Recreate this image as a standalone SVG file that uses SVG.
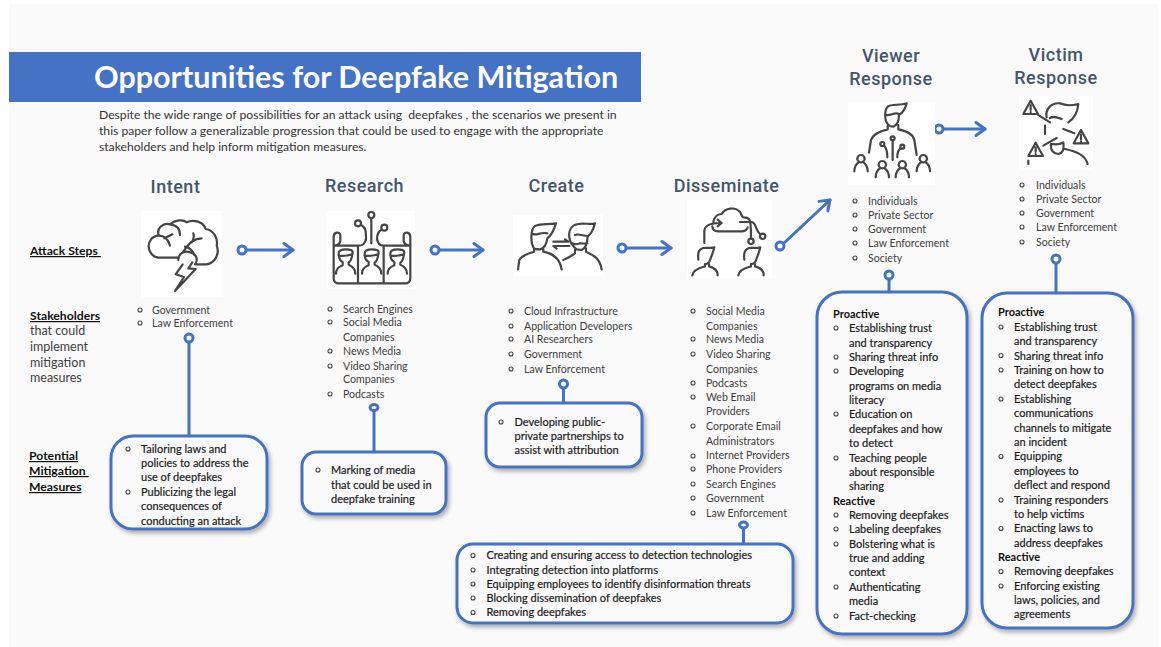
<svg xmlns="http://www.w3.org/2000/svg" width="1161" height="647" viewBox="0 0 1161 647">
<style>
text{font-family:"Lato","Open Sans","Liberation Sans",sans-serif}
.h{font-family:"Roboto","Lato",sans-serif;font-size:18px;fill:#44546a;text-anchor:middle;letter-spacing:.5px;font-weight:500}
.l{font-size:10.600px;fill:#404040}
.m{font-size:11px;fill:#1c1c1c;stroke:#1c1c1c;stroke-width:.2}
.b{font-size:11px;fill:#111;font-weight:700}
.s{font-size:12.170px;fill:#333}
.u{font-size:12.200px;fill:#111;font-weight:700;text-decoration:underline}
.g{font-size:12.500px;fill:#404040}
.box{fill:#fafafa;stroke:#4472c4;stroke-width:3;filter:url(#sh)}
.c{fill:none;stroke:#4472c4;stroke-width:3;stroke-linecap:round;stroke-linejoin:round}
.d{fill:#fafafa;stroke:#4472c4;stroke-width:3}
.i{fill:none;stroke:#454545;stroke-width:6.600;stroke-linecap:round;stroke-linejoin:round}
.w{fill:#fff}
.o{fill:none;stroke:#444;stroke-width:1.100}
</style>
<defs>
<filter id="sh" x="-10%" y="-10%" width="125%" height="125%"><feDropShadow dx="2" dy="3" stdDeviation="2" flood-color="#000" flood-opacity=".3"/></filter>
<circle id="o" class="o" r="2"/>
<path id="ah" class="c" d="M-9 -6.500L0 0L-9 6.500"/>
<path id="rp" class="i" d="M-28 28C-28 13 -20 8 -8 3L-8 -7C-18 -12 -20 -22 -20 -32C-20 -42 -10 -45 2 -45C15 -45 22 -42 22 -37C20 -22 20 -12 10 -5V1C22 8 30 13 30 28M-20 -27C-10 -22 5 -27 18 -29"/>
<path id="dp" class="i" d="M40 185C38 165 40 155 55 150C65 148 75 152 88 148C85 160 82 170 78 178C75 190 70 200 60 198V205C50 208 25 212 22 232M72 198V205C85 208 98 215 98 232"/>
<path id="vp" class="i" d="M-20 38C-20 22 -12 14 -6 10M20 38C20 22 12 14 6 10M0 -11A11 11 0 1 1 -0.100 -11Z"/>
<path id="tri" class="i" d="M0 -22L22 18H-22ZM0 -8V6M0 12V13"/>
</defs>
<rect width="1161" height="647" fill="#fff"/>
<rect x="9" y="4" width="1149" height="643" fill="#fafafa"/>
<g id="title"><rect x="9" y="52" width="632" height="50" fill="#4472c4"/>
<text x="94" y="88" font-size="30.500" font-weight="700" fill="#fff">Opportunities for Deepfake Mitigation</text></g>
<g id="intro"><text class="s" x="99" y="119" xml:space="preserve">Despite the wide range of possibilities for an attack using  deepfakes , the scenarios we present in</text>
<text class="s" x="99" y="135">this paper follow a generalizable progression that could be used to engage with the appropriate</text>
<text class="s" x="99" y="151">stakeholders and help inform mitigation measures.</text></g>
<g id="row-labels">
<text class="u" x="30" y="255" xml:space="preserve">Attack Steps </text>
<text class="u" x="30" y="320">Stakeholders</text>
<text class="g" x="30" y="335">that could</text><text class="g" x="30" y="351">implement</text><text class="g" x="30" y="367">mitigation</text><text class="g" x="30" y="382">measures</text>
<text class="u" x="29" y="460">Potential</text><text class="u" x="29" y="475" xml:space="preserve">Mitigation </text><text class="u" x="29" y="491">Measures</text>
</g>
<g id="connectors">
<path class="c" d="M189 342V436M374 411V452M563.500 388V403M743.500 529V544M889 279V292M1056 263V293"/>
<path class="c" d="M247 250H293M440 250H483M627 248H671M784 243L830 200M944 129H985"/>
<use href="#ah" x="293" y="250"/><use href="#ah" x="483" y="250"/><use href="#ah" x="671" y="248"/><use href="#ah" transform="translate(830 200) rotate(-43)"/><use href="#ah" x="985" y="129"/>
<circle class="d" cx="242" cy="250" r="4"/><circle class="d" cx="435" cy="250" r="4"/><circle class="d" cx="622" cy="248" r="4"/><circle class="d" cx="780" cy="246" r="4"/><circle class="d" cx="939" cy="129" r="4"/>
<circle class="d" cx="189" cy="338" r="4"/><ellipse class="d" cx="374" cy="407.500" rx="4" ry="3"/><circle class="d" cx="563.500" cy="384" r="4"/><ellipse class="d" cx="743.500" cy="525" rx="4" ry="3"/><circle class="d" cx="889" cy="275" r="4"/><circle class="d" cx="1056" cy="259" r="4"/>
</g>
<g id="intent"><text class="h" x="175.500" y="193">Intent</text>
<rect class="w" x="141" y="211" width="81" height="86"/>
<g transform="translate(135 205) scale(.3333)"><path class="i" d="M130 158H70C45 155 35 125 45 108C52 95 62 92 72 92C62 70 85 52 105 58C120 45 145 42 155 52C175 42 205 50 212 72C235 75 250 100 245 122C255 145 240 175 215 178H180M72 92C85 92 98 98 105 122M88 100L112 88M105 58C125 60 135 72 135 90M200 100C175 100 160 115 145 140M175 85C178 95 175 105 170 112M130 165C130 145 150 135 165 142C185 145 190 165 180 178M150 125C165 128 172 135 178 150M143 178L122 208L147 216L120 258L182 192L160 190L172 172"/></g>
<circle class="o" cx="140" cy="310" r="2"/><circle class="o" cx="140" cy="323" r="2"/>
<text class="l" x="152" y="314">Government</text><text class="l" x="152" y="327">Law Enforcement</text></g>
<g id="research"><text class="h" x="364.500" y="192">Research</text>
<rect class="w" x="326" y="211" width="89" height="78"/>
<g transform="translate(322 205) scale(.3333)"><path class="i" d="M35 130V95C35 80 55 78 55 92V105C55 115 50 120 38 122H108C122 122 130 118 132 100M265 130V95C265 80 245 78 245 92V105C245 115 250 120 262 122H185C175 122 167 118 165 100M35 122V220C35 230 42 235 50 235H250C258 235 265 230 265 220V122M108 122V235M185 122V235M148 42V115M118 60C132 68 132 80 132 105M178 75C165 80 165 95 165 105"/>
<circle class="i" cx="148" cy="30" r="9"/><circle class="i" cx="108" cy="55" r="9"/><circle class="i" cx="187" cy="68" r="9"/>
<use href="#rp" x="70" y="178"/><use href="#rp" x="148" y="178"/><use href="#rp" x="225" y="178"/></g>
<use href="#o" x="330" y="309"/><use href="#o" x="330" y="322"/><use href="#o" x="330" y="351"/><use href="#o" x="330" y="366"/><use href="#o" x="330" y="394"/>
<text class="l" x="343" y="313">Search Engines</text><text class="l" x="343" y="326">Social Media</text><text class="l" x="343" y="341">Companies</text><text class="l" x="343" y="355">News Media</text><text class="l" x="343" y="370">Video Sharing</text><text class="l" x="343" y="383">Companies</text><text class="l" x="343" y="398">Podcasts</text></g>
<g id="create"><text class="h" x="556.500" y="192">Create</text>
<rect class="w" x="513" y="215" width="90" height="61"/>
<g transform="translate(510 210) scale(.3333)"><path class="i" d="M72 115C62 100 60 60 75 48C95 38 115 45 138 40C132 60 125 75 112 85C110 100 105 115 90 118C82 118 76 118 72 115ZM70 72C80 78 90 65 112 70M72 118V125C60 130 35 135 28 150L24 178M100 118V125C125 130 150 142 155 178M178 82C175 60 185 45 205 42C220 38 240 45 255 40C250 60 243 72 233 80C232 100 228 115 215 120L200 118C190 110 180 100 178 82ZM195 75C205 70 220 78 233 78M188 100C195 105 205 102 210 100C220 100 228 102 232 100M195 118V130C185 138 170 145 160 150M228 115V125C250 135 270 145 275 178"/>
<path class="i" stroke-width="5" d="M130 95H175L165 88M178 108H130L140 116"/></g>
<use href="#o" x="511" y="311"/><use href="#o" x="511" y="326"/><use href="#o" x="511" y="339"/><use href="#o" x="511" y="354"/><use href="#o" x="511" y="369"/>
<text class="l" x="524" y="315">Cloud Infrastructure</text><text class="l" x="524" y="330">Application Developers</text><text class="l" x="524" y="343">AI Researchers</text><text class="l" x="524" y="358">Government</text><text class="l" x="524" y="373">Law Enforcement</text></g>
<g id="disseminate"><text class="h" x="726.500" y="192">Disseminate</text>
<rect class="w" x="687" y="200" width="85" height="79"/>
<g transform="translate(685 198) scale(.3333)"><path class="i" d="M58 135V100C58 85 70 75 108 75M98 65L110 75L98 85M85 72C88 55 100 48 110 48C120 30 150 25 165 42C170 50 170 56 175 58C185 58 195 60 195 72H165M82 85C82 95 88 100 100 100H170C178 100 188 95 188 88M195 72C198 78 198 90 198 120M200 72C215 75 210 95 225 108"/>
<circle class="i" cx="198" cy="130" r="8"/><circle class="i" cx="233" cy="115" r="8"/>
<use href="#dp"/><use href="#dp" x="138"/></g>
<use href="#o" x="693" y="311"/><use href="#o" x="693" y="339"/><use href="#o" x="693" y="354"/><use href="#o" x="693" y="383"/><use href="#o" x="693" y="397"/><use href="#o" x="693" y="426"/><use href="#o" x="693" y="456"/><use href="#o" x="693" y="469"/><use href="#o" x="693" y="484"/><use href="#o" x="693" y="498"/><use href="#o" x="693" y="513"/>
<text class="l" x="706" y="315">Social Media</text><text class="l" x="706" y="330">Companies</text><text class="l" x="706" y="343">News Media</text><text class="l" x="706" y="358">Video Sharing</text><text class="l" x="706" y="373">Companies</text><text class="l" x="706" y="387">Podcasts</text><text class="l" x="706" y="401">Web Email</text><text class="l" x="706" y="415">Providers</text><text class="l" x="706" y="430">Corporate Email</text><text class="l" x="706" y="445">Administrators</text><text class="l" x="706" y="459">Internet Providers</text><text class="l" x="706" y="473">Phone Providers</text><text class="l" x="706" y="488">Search Engines</text><text class="l" x="706" y="502">Government</text><text class="l" x="706" y="517">Law Enforcement</text></g>
<g id="viewer"><text class="h" x="891" y="62">Viewer</text><text class="h" x="891" y="85">Response</text>
<rect class="w" x="848" y="102" width="87" height="83"/>
<g transform="translate(845 100) scale(.3333)"><path class="i" d="M128 72C118 60 118 30 128 20C140 10 165 18 185 10C180 28 175 38 162 45C162 60 158 75 145 80C138 80 132 78 128 72ZM125 45C135 48 150 35 162 42M128 78V88C110 92 85 100 78 120L72 158M160 75V88C180 92 205 100 208 120L215 165M143 122V180M118 138C125 145 127 155 127 172M166 146C158 150 157 160 157 172"/>
<circle class="i" cx="143" cy="115" r="6"/><circle class="i" cx="112" cy="132" r="6"/><circle class="i" cx="172" cy="140" r="6"/>
<use href="#vp" x="48" y="176"/><use href="#vp" x="112" y="194"/><use href="#vp" x="172" y="194"/><use href="#vp" x="235" y="176"/></g>
<use href="#o" x="855" y="201"/><use href="#o" x="855" y="215"/><use href="#o" x="855" y="229"/><use href="#o" x="855" y="243"/><use href="#o" x="855" y="258"/>
<text class="l" x="868" y="205">Individuals</text><text class="l" x="868" y="219">Private Sector</text><text class="l" x="868" y="233">Government</text><text class="l" x="868" y="247">Law Enforcement</text><text class="l" x="868" y="262">Society</text></g>
<g id="victim"><text class="h" x="1056" y="61">Victim</text><text class="h" x="1056" y="84">Response</text>
<rect class="w" x="1019" y="96" width="74" height="74"/>
<g transform="translate(1015 94) scale(.3333)"><path class="i" d="M95 70C90 50 105 25 135 28C150 35 170 35 190 30C188 55 175 75 160 85M105 72C115 65 125 70 140 75M68 62L105 85M90 95V120M178 118L145 105M85 155L125 132M108 150C105 170 118 180 130 180C142 178 148 165 145 145C130 155 120 150 108 150ZM150 165C180 172 210 180 218 210M40 200V210"/>
<use href="#tri" x="47" y="42"/><use href="#tri" x="198" y="130"/><use href="#tri" x="62" y="168"/></g>
<use href="#o" x="1022" y="185"/><use href="#o" x="1022" y="199"/><use href="#o" x="1022" y="213"/><use href="#o" x="1022" y="227"/><use href="#o" x="1022" y="242"/>
<text class="l" x="1036" y="189">Individuals</text><text class="l" x="1036" y="203">Private Sector</text><text class="l" x="1036" y="217">Government</text><text class="l" x="1036" y="231">Law Enforcement</text><text class="l" x="1036" y="246">Society</text></g>
<g id="m-intent"><rect class="box" x="111" y="436" width="156" height="93" rx="22"/>
<use href="#o" x="128" y="449"/><use href="#o" x="128" y="492"/>
<text class="m" x="141" y="453">Tailoring laws and</text><text class="m" x="141" y="467">policies to address the</text><text class="m" x="141" y="481">use of deepfakes</text><text class="m" x="141" y="496">Publicizing the legal</text><text class="m" x="141" y="510">consequences of</text><text class="m" x="141" y="525">conducting an attack</text></g>
<g id="m-research"><rect class="box" x="302" y="452" width="144" height="62" rx="14"/>
<use href="#o" x="318" y="470"/>
<text class="m" x="331" y="474">Marking of media</text><text class="m" x="331" y="489">that could be used in</text><text class="m" x="331" y="503">deepfake training</text></g>
<g id="m-create"><rect class="box" x="486" y="403" width="156" height="64" rx="14"/>
<use href="#o" x="501" y="422"/>
<text class="m" x="514.500" y="426">Developing public-</text><text class="m" x="514.500" y="440">private partnerships to</text><text class="m" x="514.500" y="454">assist with attribution</text></g>
<g id="m-disseminate"><rect class="box" x="457" y="544" width="336" height="79" rx="16"/>
<use href="#o" x="473" y="555.500"/><use href="#o" x="473" y="570"/><use href="#o" x="473" y="584"/><use href="#o" x="473" y="598"/><use href="#o" x="473" y="612.500"/>
<text class="m" x="486.500" y="559">Creating and ensuring access to detection technologies</text><text class="m" x="486.500" y="573.500">Integrating detection into platforms</text><text class="m" x="486.500" y="587.500">Equipping employees to identify disinformation threats</text><text class="m" x="486.500" y="602">Blocking dissemination of deepfakes</text><text class="m" x="486.500" y="616">Removing deepfakes</text></g>
<g id="m-viewer"><rect class="box" x="817" y="292" width="150" height="342" rx="25"/>
<use href="#o" x="836" y="328"/><use href="#o" x="836" y="357"/><use href="#o" x="836" y="371"/><use href="#o" x="836" y="414"/><use href="#o" x="836" y="458"/><use href="#o" x="836" y="515"/><use href="#o" x="836" y="529"/><use href="#o" x="836" y="544"/><use href="#o" x="836" y="587"/><use href="#o" x="836" y="616"/>
<text class="b" x="833" y="318">Proactive</text>
<text class="m" x="849" y="332">Establishing trust</text><text class="m" x="849" y="346.500">and transparency</text><text class="m" x="849" y="361">Sharing threat info</text><text class="m" x="849" y="375">Developing</text><text class="m" x="849" y="389.500">programs on media</text><text class="m" x="849" y="404">literacy</text><text class="m" x="849" y="418">Education on</text><text class="m" x="849" y="432.500">deepfakes and how</text><text class="m" x="849" y="447">to detect</text><text class="m" x="849" y="461.500">Teaching people</text><text class="m" x="849" y="476">about responsible</text><text class="m" x="849" y="490">sharing</text>
<text class="b" x="833" y="504.500">Reactive</text>
<text class="m" x="849" y="519">Removing deepfakes</text><text class="m" x="849" y="533">Labeling deepfakes</text><text class="m" x="849" y="547.500">Bolstering what is</text><text class="m" x="849" y="562">true and adding</text><text class="m" x="849" y="576">context</text><text class="m" x="849" y="591">Authenticating</text><text class="m" x="849" y="605">media</text><text class="m" x="849" y="619.500">Fact-checking</text></g>
<g id="m-victim"><rect class="box" x="982" y="293" width="151" height="335" rx="25"/>
<use href="#o" x="1001" y="327"/><use href="#o" x="1001" y="355.500"/><use href="#o" x="1001" y="370"/><use href="#o" x="1001" y="399"/><use href="#o" x="1001" y="456.500"/><use href="#o" x="1001" y="500"/><use href="#o" x="1001" y="528.500"/><use href="#o" x="1001" y="571.500"/><use href="#o" x="1001" y="586"/>
<text class="b" x="998" y="316">Proactive</text>
<text class="m" x="1014" y="331">Establishing trust</text><text class="m" x="1014" y="345">and transparency</text><text class="m" x="1014" y="359.500">Sharing threat info</text><text class="m" x="1014" y="374">Training on how to</text><text class="m" x="1014" y="388">detect deepfakes</text><text class="m" x="1014" y="403">Establishing</text><text class="m" x="1014" y="417">communications</text><text class="m" x="1014" y="431.500">channels to mitigate</text><text class="m" x="1014" y="446">an incident</text><text class="m" x="1014" y="460">Equipping</text><text class="m" x="1014" y="474.500">employees to</text><text class="m" x="1014" y="489">deflect and respond</text><text class="m" x="1014" y="503.500">Training responders</text><text class="m" x="1014" y="518">to help victims</text><text class="m" x="1014" y="532">Enacting laws to</text><text class="m" x="1014" y="546.500">address deepfakes</text>
<text class="b" x="998" y="561">Reactive</text>
<text class="m" x="1014" y="575">Removing deepfakes</text><text class="m" x="1014" y="590">Enforcing existing</text><text class="m" x="1014" y="604">laws, policies, and</text><text class="m" x="1014" y="618">agreements</text></g>
</svg>
